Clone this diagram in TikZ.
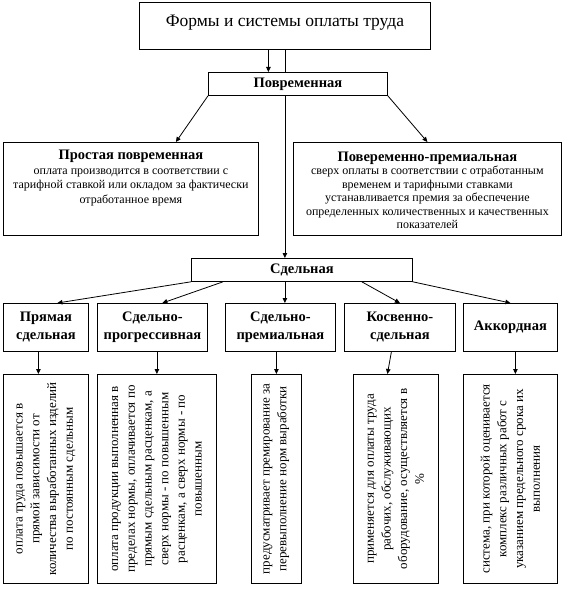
\documentclass[tikz,border=0pt]{standalone}
\usepackage{graphicx}
\usepackage{fontspec}
\setmainfont{Liberation Serif}
\usetikzlibrary{arrows.meta}

\newcommand{\vtext}[1]{\rotatebox{90}{\parbox{200pt}{\centering\fontsize{13}{16.7}\selectfont #1}}}

\tikzset{
  box/.style={draw, fill=white, inner sep=0pt, line width=0.8pt, anchor=north west},
  kind/.style={box, minimum height=48pt, align=center, font=\fontsize{14.5}{18}\selectfont\bfseries},
  note/.style={box, minimum height=209pt},
  conn/.style={line width=0.8pt},
  arr/.style={conn, -{Triangle[length=5pt,width=4.5pt]}},
}

\begin{document}
\begin{tikzpicture}[x=1pt, y=-1pt]
    \useasboundingbox (0,0) rectangle (566,607);

    % Top
    \node[box] (forms) at (139,2)
        {\parbox[t][47pt][t]{291pt}{\centering\fontsize{17.5}{19}\selectfont\rule{0pt}{24pt}Формы и системы оплаты труда}};
    \node[box, minimum width=179pt, minimum height=23pt, font=\fontsize{14.5}{16}\selectfont\bfseries] (time) at (208,72) {Повременная};

    % Time-based
    \node[box] (simple) at (3,142)
        {\parbox[t][93pt][t]{255pt}{\centering\fontsize{12}{14.7}\selectfont
        {\fontsize{14.5}{16}\selectfont\bfseries\rule{0pt}{17pt}Простая повременная}\\
        оплата производится в соответствии с\\
        тарифной ставкой или окладом за фактически\\
        отработанное время}};
    \node[box] (timebonus) at (293,142)
        {\parbox[t][93pt][t]{268pt}{\centering\fontsize{12}{13.4}\selectfont
        {\fontsize{14.5}{16}\selectfont\bfseries\rule{0pt}{19pt}Повеременно-премиальная}\\
        сверх оплаты в соответствии с отработанным\\
        временем и тарифными ставками\\
        устанавливается премия за обеспечение\\
        определенных количественных и качественных\\
        показателей}};

    % Piece-rate
    \node[box, minimum width=221pt, minimum height=23pt, font=\fontsize{14.5}{16}\selectfont\bfseries] (piece) at (191,258) {Сдельная};

    \node[kind, minimum width=85pt]  (direct)   at (3,303)   {Прямая\\сдельная};
    \node[kind, minimum width=110pt] (progr)    at (97,303)  {Сдельно-\\прогрессивная};
    \node[kind, minimum width=110pt] (bonus)    at (225,303) {Сдельно-\\премиальная};
    \node[kind, minimum width=111pt] (indirect) at (344,303) {Косвенно-\\сдельная};
    \node[kind, minimum width=94pt]  (chord)    at (463,303) {Аккордная};

    % Descriptions
    \node[note, minimum width=85pt] (directtxt) at (3,374)
        {\vtext{оплата труда повышается в\\ прямой зависимости от\\ количества выработанных изделий\\ по постоянным сдельным}};
    \node[note, minimum width=119pt] (progrtxt) at (97,374)
        {\vtext{оплата продукции выполненная в\\ пределах нормы, оплачивается по\\ прямым сдельным расценкам, а\\ сверх нормы - по повышенным\\ расценкам, а сверх нормы - по\\ повышенным}};
    \node[note, minimum width=50pt] (bonustxt) at (251,374)
        {\vtext{предусматривает премирование за\\ перевыполнение норм выработки}};
    \node[note, minimum width=85pt] (indirecttxt) at (353,374)
        {\vtext{применяется для оплаты труда\\ рабочих, обслуживающих\\ оборудование, осуществляется в\\ \%}};
    \node[note, minimum width=94pt] (chordtxt) at (463,374)
        {\vtext{система, при которой оценивается\\ комплекс различных работ с\\ указанием предельного срока их\\ выполнения}};

    % Connectors
    \draw[arr] ([xshift=-16.5pt]forms.south) -- ([xshift=-16.5pt]forms.south |- time.north);
    \draw[conn] (forms.south) -- (forms.south |- time.north);
    \draw[arr] (forms.south |- time.south) -- (forms.south |- piece.north);
    \draw[arr] (time.south west) -- ([xshift=45pt]simple.north);
    \draw[arr] (time.south east) -- (timebonus.north);

    \draw[arr] (piece.south west) -- ([xshift=11.5pt]direct.north);
    \draw[arr] ([xshift=32pt]piece.south west) -- ([xshift=10pt]progr.north);
    \draw[arr] (forms.south |- piece.south) -- (forms.south |- bonus.north);
    \draw[arr] ([xshift=-51pt]piece.south east) -- (indirect.north);
    \draw[arr] (piece.south east) -- (chord.north);

    \draw[arr] ([xshift=-7.5pt]direct.south) -- ([xshift=-7.5pt]directtxt.north);
    \draw[arr] (progrtxt.north |- progr.south) -- (progrtxt.north);
    \draw[arr] (bonustxt.north |- bonus.south) -- (bonustxt.north);
    \draw[arr] ([xshift=-8.5pt]indirect.south) -- ([xshift=-8.5pt]indirecttxt.north);
    \draw[arr] ([xshift=5pt]chord.south) -- ([xshift=5pt]chordtxt.north);

\end{tikzpicture}
\end{document}
